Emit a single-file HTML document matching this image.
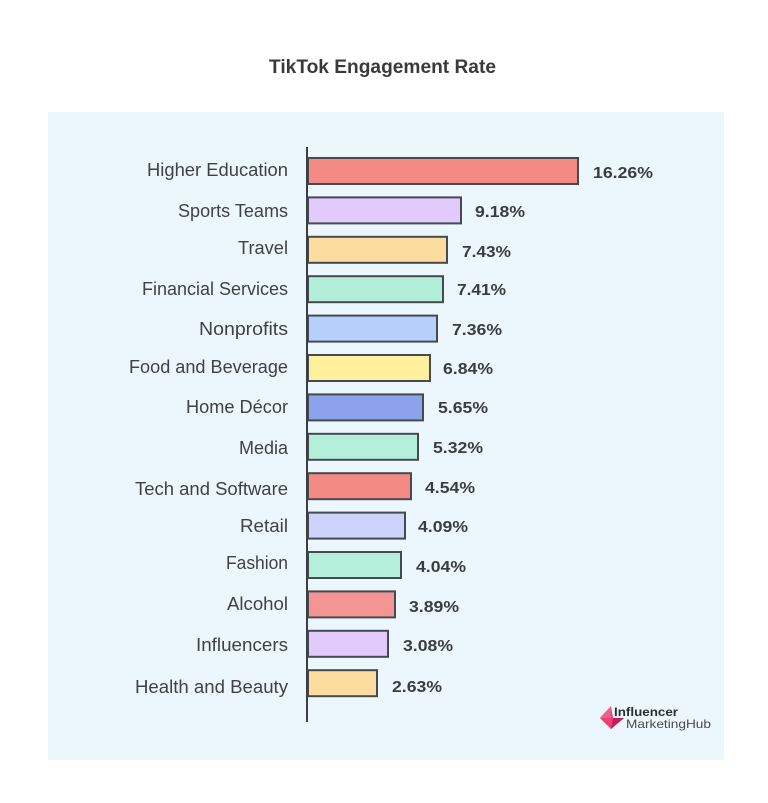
<!DOCTYPE html>
<html>
<head>
<meta charset="utf-8">
<style>
html,body{margin:0;padding:0;background:#ffffff;}
svg{display:block;}
</style>
</head>
<body>
<svg width="768" height="803" viewBox="0 0 768 803" xmlns="http://www.w3.org/2000/svg">
  <rect x="0" y="0" width="768" height="803" fill="#ffffff"/>
  <text x="269" y="73" font-family="Liberation Sans, sans-serif" font-size="19" font-weight="bold" fill="#3a3a3a" textLength="227" lengthAdjust="spacingAndGlyphs">TikTok Engagement Rate</text>
  <rect x="48" y="112" width="676" height="648" fill="#ecf7fd"/>

  <g stroke="#454a4f" stroke-width="2">
    <rect x="308" y="158" width="270" height="26" fill="#f38b84"/>
    <rect x="308" y="197.4" width="153" height="26" fill="#e2cafc"/>
    <rect x="308" y="236.8" width="139" height="26" fill="#fddca0"/>
    <rect x="308" y="276.2" width="135" height="26" fill="#b3eedb"/>
    <rect x="308" y="315.6" width="129" height="26" fill="#b6cffb"/>
    <rect x="308" y="355" width="122" height="26" fill="#fff09b"/>
    <rect x="308" y="394.4" width="115" height="26" fill="#8ca2ea"/>
    <rect x="308" y="433.8" width="110" height="26" fill="#b4efdc"/>
    <rect x="308" y="473.2" width="103" height="26" fill="#f48a84"/>
    <rect x="308" y="512.6" width="97" height="26" fill="#ccd3fd"/>
    <rect x="308" y="552" width="93" height="26" fill="#b4efdc"/>
    <rect x="308" y="591.4" width="87" height="26" fill="#f59494"/>
    <rect x="308" y="630.8" width="80" height="26" fill="#e2cafc"/>
    <rect x="308" y="670.2" width="69" height="26" fill="#fddca0"/>
  </g>
  <line x1="307" y1="147" x2="307" y2="722" stroke="#3c3f42" stroke-width="2"/>

  <g font-family="Liberation Sans, sans-serif" font-size="18" fill="#3f4245" text-anchor="end">
    <text x="288" y="176" textLength="141" lengthAdjust="spacingAndGlyphs">Higher Education</text>
    <text x="288" y="217" textLength="110" lengthAdjust="spacingAndGlyphs">Sports Teams</text>
    <text x="288" y="254" textLength="50" lengthAdjust="spacingAndGlyphs">Travel</text>
    <text x="288" y="295" textLength="146" lengthAdjust="spacingAndGlyphs">Financial Services</text>
    <text x="288" y="335" textLength="89" lengthAdjust="spacingAndGlyphs">Nonprofits</text>
    <text x="288" y="373" textLength="159" lengthAdjust="spacingAndGlyphs">Food and Beverage</text>
    <text x="288" y="413" textLength="102" lengthAdjust="spacingAndGlyphs">Home Décor</text>
    <text x="288" y="454" textLength="49" lengthAdjust="spacingAndGlyphs">Media</text>
    <text x="288" y="495" textLength="153" lengthAdjust="spacingAndGlyphs">Tech and Software</text>
    <text x="288" y="532" textLength="48" lengthAdjust="spacingAndGlyphs">Retail</text>
    <text x="288" y="569" textLength="62" lengthAdjust="spacingAndGlyphs">Fashion</text>
    <text x="288" y="610" textLength="61" lengthAdjust="spacingAndGlyphs">Alcohol</text>
    <text x="288" y="651" textLength="92" lengthAdjust="spacingAndGlyphs">Influencers</text>
    <text x="288" y="693" textLength="153" lengthAdjust="spacingAndGlyphs">Health and Beauty</text>
  </g>

  <g font-family="Liberation Sans, sans-serif" font-size="16" font-weight="bold" fill="#3a3d40">
    <text x="593" y="178" textLength="60" lengthAdjust="spacingAndGlyphs">16.26%</text>
    <text x="475" y="217" textLength="50" lengthAdjust="spacingAndGlyphs">9.18%</text>
    <text x="462" y="257" textLength="49" lengthAdjust="spacingAndGlyphs">7.43%</text>
    <text x="457" y="295" textLength="49" lengthAdjust="spacingAndGlyphs">7.41%</text>
    <text x="452" y="335" textLength="50" lengthAdjust="spacingAndGlyphs">7.36%</text>
    <text x="443" y="374" textLength="50" lengthAdjust="spacingAndGlyphs">6.84%</text>
    <text x="438" y="413" textLength="50" lengthAdjust="spacingAndGlyphs">5.65%</text>
    <text x="433" y="453" textLength="50" lengthAdjust="spacingAndGlyphs">5.32%</text>
    <text x="425" y="493" textLength="50" lengthAdjust="spacingAndGlyphs">4.54%</text>
    <text x="418" y="532" textLength="50" lengthAdjust="spacingAndGlyphs">4.09%</text>
    <text x="416" y="572" textLength="50" lengthAdjust="spacingAndGlyphs">4.04%</text>
    <text x="409" y="612" textLength="50" lengthAdjust="spacingAndGlyphs">3.89%</text>
    <text x="403" y="651" textLength="50" lengthAdjust="spacingAndGlyphs">3.08%</text>
    <text x="392" y="692" textLength="50" lengthAdjust="spacingAndGlyphs">2.63%</text>
  </g>

  <!-- logo -->
  <polygon points="611,706 600,718 611,729 624,718 613,718" fill="#ee3f77"/>
  <polygon points="611,729 624,718 613,718" fill="#c41e58"/>
  <polygon points="600,718 611,706 611,718" fill="#f0608e"/>
  <text x="614" y="716" font-family="Liberation Sans, sans-serif" font-size="12" font-weight="bold" fill="#2e2e2e" textLength="64" lengthAdjust="spacingAndGlyphs">Influencer</text>
  <text x="626" y="728" font-family="Liberation Sans, sans-serif" font-size="12" fill="#4a4a4a" textLength="85" lengthAdjust="spacingAndGlyphs">MarketingHub</text>
</svg>
</body>
</html>
